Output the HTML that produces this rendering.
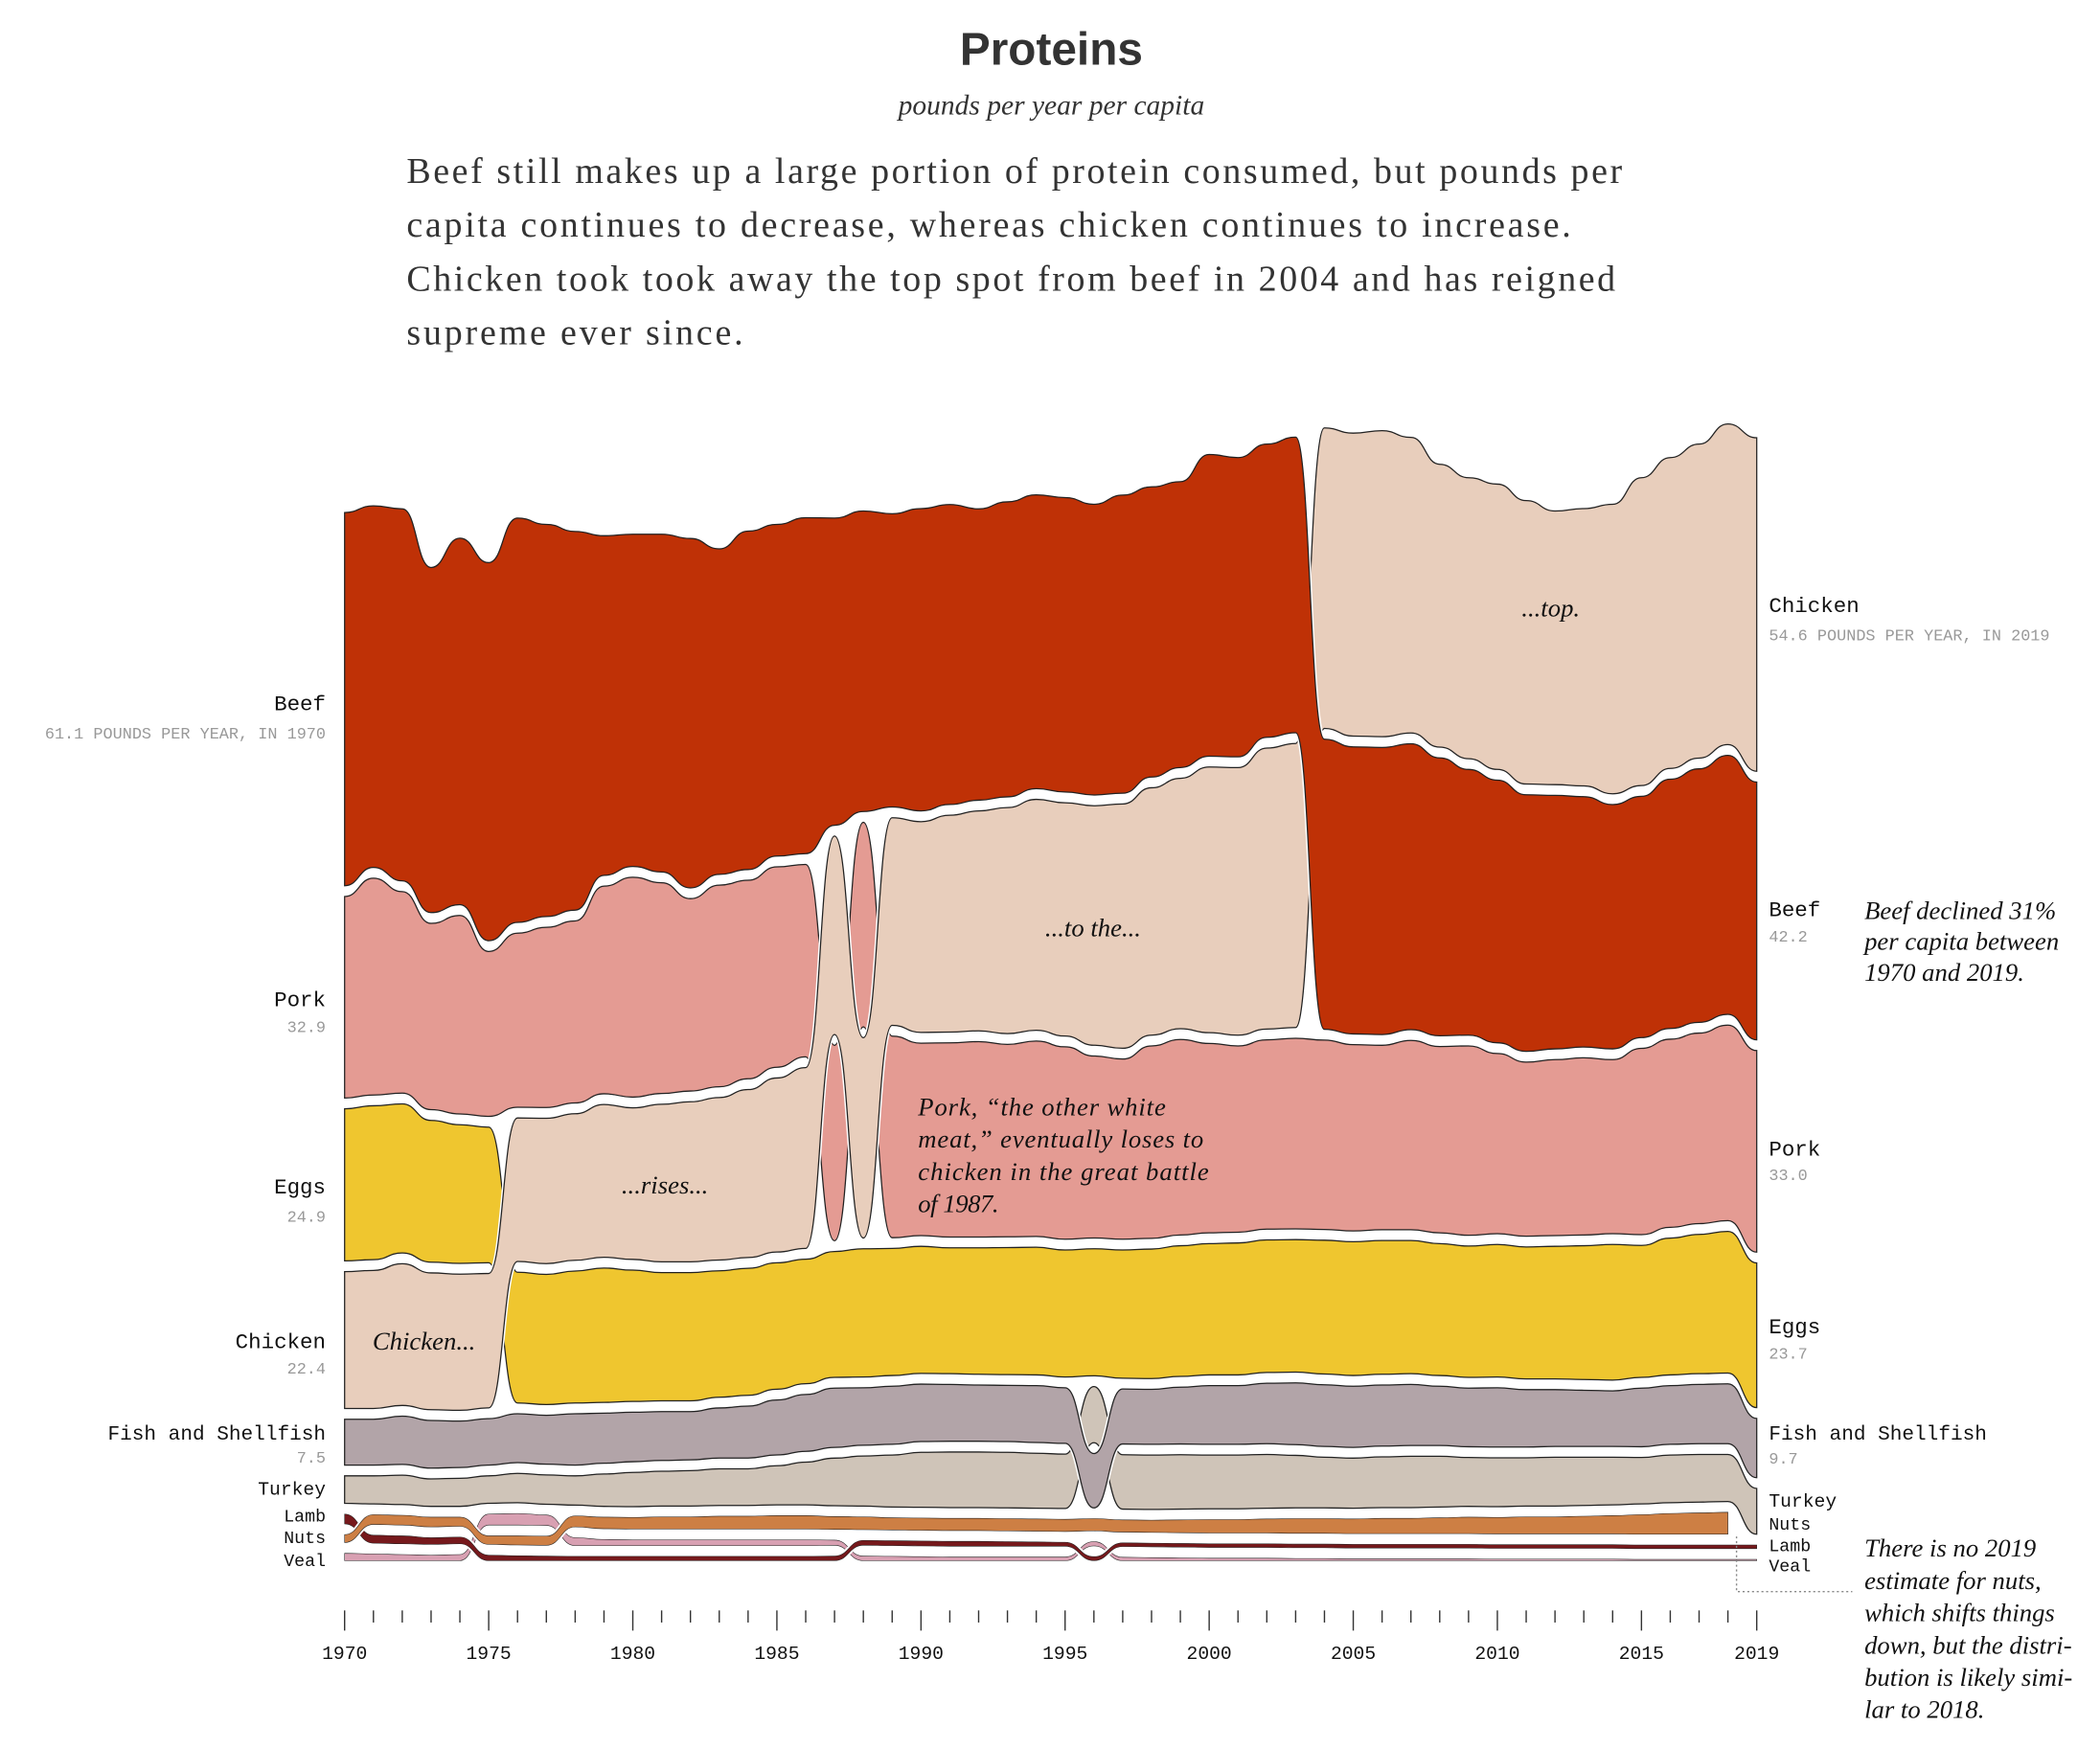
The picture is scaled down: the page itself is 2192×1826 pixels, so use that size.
<!DOCTYPE html>
<html><head><meta charset="utf-8"><title>Proteins</title>
<style>
html,body{margin:0;padding:0;background:#fff;}
svg{display:block;}
.mono{font-family:"Liberation Mono","DejaVu Sans Mono",monospace;}
.serif{font-family:"Liberation Serif","DejaVu Serif",serif;}
.ital{font-family:"Liberation Serif","DejaVu Serif",serif;font-style:italic;}
</style></head>
<body>
<svg id="chart" width="2192" height="1826" viewBox="0 0 1560 1300" preserveAspectRatio="none" xmlns="http://www.w3.org/2000/svg">
  <text x="781" y="48" text-anchor="middle" font-family="Liberation Sans, sans-serif" font-size="34" font-weight="600" fill="#333">Proteins</text>
  <text class="ital" x="781" y="85" text-anchor="middle" font-size="21" fill="#333">pounds per year per capita</text>
  <g class="serif" font-size="27" fill="#333">
    <text x="302" y="136" textLength="903" lengthAdjust="spacing">Beef still makes up a large portion of protein consumed, but pounds per</text>
    <text x="302" y="176" textLength="865" lengthAdjust="spacing">capita continues to decrease, whereas chicken continues to increase.</text>
    <text x="302" y="216" textLength="898" lengthAdjust="spacing">Chicken took took away the top spot from beef in 2004 and has reigned</text>
    <text x="302" y="256" textLength="250" lengthAdjust="spacing">supreme ever since.</text>
  </g>
  <g id="bands"></g>
  <g id="axis"></g>

  <g class="mono" text-anchor="end">
    <text x="242" y="528" font-size="16" fill="#111">Beef</text>
    <text x="242" y="549" font-size="12" fill="#999">61.1 POUNDS PER YEAR, IN 1970</text>
    <text x="242" y="748" font-size="16" fill="#111">Pork</text>
    <text x="242" y="767" font-size="12" fill="#999">32.9</text>
    <text x="242" y="887" font-size="16" fill="#111">Eggs</text>
    <text x="242" y="908" font-size="12" fill="#999">24.9</text>
    <text x="242" y="1002" font-size="16" fill="#111">Chicken</text>
    <text x="242" y="1021" font-size="12" fill="#999">22.4</text>
    <text x="242" y="1070" font-size="15" fill="#111">Fish and Shellfish</text>
    <text x="242" y="1087" font-size="12" fill="#999">7.5</text>
    <text x="242" y="1111" font-size="14" fill="#111">Turkey</text>
    <text x="242" y="1131" font-size="13" fill="#111">Lamb</text>
    <text x="242" y="1147" font-size="13" fill="#111">Nuts</text>
    <text x="242" y="1164" font-size="13" fill="#111">Veal</text>
  </g>
  <g class="mono">
    <text x="1314" y="455" font-size="16" fill="#111">Chicken</text>
    <text x="1314" y="476" font-size="12" fill="#999">54.6 POUNDS PER YEAR, IN 2019</text>
    <text x="1314" y="681" font-size="16" fill="#111">Beef</text>
    <text x="1314" y="700" font-size="12" fill="#999">42.2</text>
    <text x="1314" y="859" font-size="16" fill="#111">Pork</text>
    <text x="1314" y="877" font-size="12" fill="#999">33.0</text>
    <text x="1314" y="991" font-size="16" fill="#111">Eggs</text>
    <text x="1314" y="1010" font-size="12" fill="#999">23.7</text>
    <text x="1314" y="1070" font-size="15" fill="#111">Fish and Shellfish</text>
    <text x="1314" y="1088" font-size="12" fill="#999">9.7</text>
    <text x="1314" y="1120" font-size="14" fill="#111">Turkey</text>
    <text x="1314" y="1137" font-size="13" fill="#111">Nuts</text>
    <text x="1314" y="1153" font-size="13" fill="#111">Lamb</text>
    <text x="1314" y="1168" font-size="13" fill="#111">Veal</text>
  </g>
  <g class="ital" font-size="19" fill="#111">
    <text x="1385" y="683">Beef declined 31%</text>
    <text x="1385" y="706">per capita between</text>
    <text x="1385" y="729">1970 and 2019.</text>
  </g>
  <g class="ital" font-size="19" fill="#111">
    <text x="1385" y="1157">There is no 2019</text>
    <text x="1385" y="1181">estimate for nuts,</text>
    <text x="1385" y="1205">which shifts things</text>
    <text x="1385" y="1229">down, but the distri-</text>
    <text x="1385" y="1253">bution is likely simi-</text>
    <text x="1385" y="1277">lar to 2018.</text>
  </g>
  <path d="M1290,1142 V1183 H1376" fill="none" stroke="#888" stroke-width="1" stroke-dasharray="1.5,2"/>
  <g class="ital" font-size="19" fill="#111">
    <text x="1152" y="458" text-anchor="middle">...top.</text>
    <text x="812" y="696" text-anchor="middle">...to the...</text>
    <text x="494" y="887" text-anchor="middle">...rises...</text>
    <text x="315" y="1003" text-anchor="middle">Chicken...</text>
    <text x="682" y="829" textLength="184" lengthAdjust="spacing">Pork, “the other white</text>
    <text x="682" y="853" textLength="212" lengthAdjust="spacing">meat,” eventually loses to</text>
    <text x="682" y="877" textLength="216" lengthAdjust="spacing">chicken in the great battle</text>
    <text x="682" y="901" textLength="60" lengthAdjust="spacing">of 1987.</text>
  </g>
</svg>
<script>
const years = [];
for (let y = 1970; y <= 2019; y++) years.push(y);
const beef = [61.1,59.2,60.9,56.5,60.0,61.9,66.2,64.2,62.0,55.6, 54.4,55.3,57.2,53.3,55.4,54.3,55.0,50.3,49.2,48.0, 49.5,49.1,47.7,48.3,48.1,48.2,47.6,48.8,47.5,46.8, 49.4,49.0,48.0,48.4,47.5,47.0,47.0,46.8,45.5,43.5, 43.0,42.0,41.5,41.0,40.0,39.5,40.8,41.5,42.4,42.2];
const chicken = [22.4,22.6,23.2,22.4,22.3,22.0,23.5,23.8,24.0,25.0, 24.8,25.8,26.2,26.6,27.5,28.5,29.6,32.5,32.8,34.0, 34.5,35.5,36.0,37.0,37.8,38.2,39.2,40.0,40.5,41.0, 43.5,43.8,46.0,46.5,49.2,49.6,50.1,48.4,46.3,46.0, 46.7,46.4,44.8,45.4,47.4,50.4,50.9,51.4,52.5,54.6];
const pork = [33.0,35.5,33.0,30.5,32.5,27.0,28.5,29.5,29.8,34.0, 36.0,34.5,31.5,33.0,32.5,32.8,31.5,32.0,33.5,33.0, 31.5,31.8,32.0,31.5,32.0,31.5,29.8,29.5,31.5,32.0, 31.0,30.5,31.0,31.2,31.0,30.5,30.2,31.0,30.5,31.0, 29.5,28.5,28.8,29.0,28.5,30.5,30.8,31.2,32.0,33.0];
const eggs = [24.9,25.2,24.4,23.2,22.7,22.2,21.4,21.3,21.6,22.0, 21.5,21.0,21.0,20.7,20.8,20.7,20.4,20.6,21.0,20.8, 20.8,20.6,20.7,20.8,20.9,20.8,20.8,21.0,21.2,21.4, 21.5,21.6,21.7,21.7,21.9,21.9,21.9,21.8,21.6,21.5, 21.7,21.6,21.7,21.9,22.2,21.6,22.4,22.8,23.2,23.7];
const fish = [7.5,7.5,7.9,7.8,7.6,7.6,8.0,8.0,8.4,8.2, 8.1,8.0,7.9,8.2,8.5,9.0,9.3,9.7,9.4,9.5, 9.4,9.3,9.2,9.2,9.3,9.1,8.9,9.0,9.0,9.3, 9.6,9.6,9.9,10.1,10.1,10.0,10.0,10.0,9.7,9.6, 9.7,9.4,9.3,9.2,9.1,9.6,9.6,9.7,9.8,9.7];
const turkey = [4.5,4.6,4.8,4.5,4.6,4.5,4.8,4.8,4.8,5.3, 5.6,5.7,5.8,6.0,6.0,6.4,7.0,7.8,8.2,8.5, 9.0,9.1,9.1,9.1,9.0,8.9,9.2,8.9,8.9,8.9, 8.8,8.8,8.8,8.6,8.3,8.2,8.3,8.4,8.3,8.0, 8.0,7.9,8.0,7.9,7.8,7.6,7.8,7.8,7.7,7.5];
const nuts = [1.3,1.6,1.6,1.6,1.5,1.4,1.5,1.5,1.8,1.9, 1.9,2.0,2.0,2.1,2.1,2.2,2.2,2.1,2.1,2.0, 2.0,2.0,2.0,2.0,2.0,2.0,2.0,2.0,2.0,2.1, 2.2,2.2,2.3,2.4,2.4,2.4,2.5,2.5,2.6,2.7, 2.7,2.8,2.8,2.9,3.0,3.2,3.4,3.5,3.6,null];
const lamb = [1.6,1.3,1.3,1.1,1.1,0.9,0.8,0.75,0.7,0.7, 0.7,0.7,0.7,0.7,0.7,0.7,0.7,0.75,0.8,0.8, 0.8,0.8,0.8,0.75,0.7,0.65,0.65,0.6,0.6,0.6, 0.6,0.6,0.6,0.6,0.6,0.6,0.6,0.6,0.6,0.6, 0.6,0.6,0.6,0.6,0.6,0.6,0.6,0.6,0.6,0.6];
const veal = [1.2,1.1,1.0,0.9,1.0,1.8,1.9,1.7,1.3,1.0, 0.95,0.95,0.95,0.95,0.95,0.95,0.95,0.85,0.75,0.7, 0.65,0.6,0.6,0.6,0.6,0.6,0.7,0.55,0.5,0.45, 0.4,0.4,0.4,0.35,0.35,0.3,0.3,0.3,0.3,0.3, 0.25,0.25,0.25,0.25,0.25,0.2,0.2,0.2,0.2,0.2];
const tickLabels = ["1970","1975","1980","1985","1990","1995","2000","2005","2010","2015","2019"];

const series = [
  {key:"beef", vals:beef, color:"#bf3106", sw:0.9},
  {key:"chicken", vals:chicken, color:"#e8cebc", sw:0.9},
  {key:"pork", vals:pork, color:"#e49b93", sw:0.9},
  {key:"eggs", vals:eggs, color:"#efc62f", sw:0.9},
  {key:"fish", vals:fish, color:"#b2a4a8", sw:0.9},
  {key:"turkey", vals:turkey, color:"#cfc4b8", sw:0.9},
  {key:"nuts", vals:nuts, color:"#cd7f44", sw:0.4},
  {key:"lamb", vals:lamb, color:"#76191c", sw:0.4},
  {key:"veal", vals:veal, color:"#d8a0b2", sw:0.4}
];
const X0 = 256, X1 = 1305, BASE = 1160, K = 4.54, GAP = 8;
function xScale(year){ return X0 + (year - 1970) * (X1 - X0) / 49; }
function hScale(v){ return v * K; }

const tops = {}, bots = {};
series.forEach(s => { tops[s.key] = []; bots[s.key] = []; });
years.forEach((yr, i) => {
  const present = series.filter(s => s.vals[i] !== null && s.vals[i] !== undefined);
  present.sort((a, b) => a.vals[i] - b.vals[i]);
  let y = BASE;
  present.forEach(s => {
    bots[s.key][i] = y;
    const t = y - hScale(s.vals[i]);
    tops[s.key][i] = t;
    y = t - GAP;
  });
});

const NS = "http://www.w3.org/2000/svg";
const bandsG = document.getElementById("bands");
function curve(pts, move){
  let d = (move ? "M" : "L") + pts[0][0].toFixed(2) + "," + pts[0][1].toFixed(2);
  for (let j = 1; j < pts.length; j++) {
    const [xa, ya] = pts[j-1], [xb, yb] = pts[j];
    const xm = (xa + xb) / 2;
    d += "C" + xm.toFixed(2) + "," + ya.toFixed(2) + " " + xm.toFixed(2) + "," + yb.toFixed(2) + " " + xb.toFixed(2) + "," + yb.toFixed(2);
  }
  return d;
}
series.slice().reverse().forEach(s => {
  const idx = [];
  years.forEach((yr, i) => { if (s.vals[i] !== null) idx.push(i); });
  const topPts = idx.map(i => [xScale(years[i]), tops[s.key][i]]);
  const botPts = idx.map(i => [xScale(years[i]), bots[s.key][i]]).reverse();
  const d = curve(topPts, true) + curve(botPts, false) + "Z";
  const halo = document.createElementNS(NS, "path");
  halo.setAttribute("d", d);
  halo.setAttribute("fill", "none");
  halo.setAttribute("stroke", "#fff");
  halo.setAttribute("stroke-width", "3");
  
  
  bandsG.appendChild(halo);
  const p = document.createElementNS(NS, "path");
  p.setAttribute("d", d);
  p.setAttribute("fill", s.color);
  p.setAttribute("stroke", "#222");
  p.setAttribute("stroke-width", s.sw);
  
  
  bandsG.appendChild(p);
});

const axisG = document.getElementById("axis");
years.forEach(yr => {
  const major = (yr % 5 === 0) || yr === 2019;
  const ln = document.createElementNS(NS, "line");
  const x = xScale(yr);
  ln.setAttribute("x1", x); ln.setAttribute("x2", x);
  ln.setAttribute("y1", 1197);
  ln.setAttribute("y2", major ? 1212 : 1206);
  ln.setAttribute("stroke", "#333");
  ln.setAttribute("stroke-width", "1");
  
  
  axisG.appendChild(ln);
});
tickLabels.forEach(lbl => {
  const t = document.createElementNS(NS, "text");
  t.setAttribute("x", xScale(+lbl));
  t.setAttribute("y", 1233);
  t.setAttribute("text-anchor", "middle");
  t.setAttribute("class", "mono");
  t.setAttribute("font-size", "14");
  t.setAttribute("fill", "#111");
  t.textContent = lbl;
  
  
  axisG.appendChild(t);
});
</script>
</body></html>
